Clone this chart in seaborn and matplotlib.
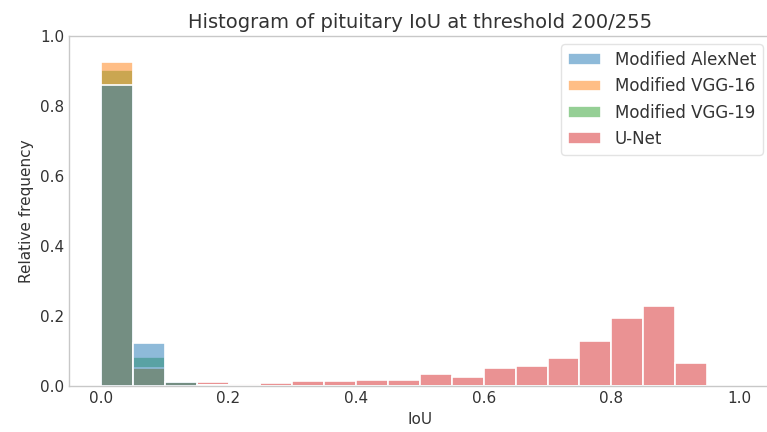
import numpy as np
import pandas as pd
import matplotlib
matplotlib.use("Agg")
import matplotlib.pyplot as plt
import seaborn as sns

# Bin edges (width 0.05 from 0 to 1)
bin_edges = [round(i * 0.05, 2) for i in range(21)]
series_names = ["Modified AlexNet", "Modified VGG-16", "Modified VGG-19", "U-Net"]

alexnet = [0.860, 0.122, 0.012, 0.003, 0.002, 0, 0, 0, 0, 0,
           0, 0, 0, 0, 0, 0, 0, 0, 0, 0]
vgg16 = [0.925, 0.053, 0.012, 0.004, 0.004, 0, 0, 0, 0, 0,
         0, 0, 0, 0, 0, 0, 0, 0, 0, 0]
vgg19 = [0.903, 0.082, 0.012, 0.003, 0.002, 0, 0, 0, 0, 0,
         0, 0, 0, 0, 0, 0, 0, 0, 0, 0]
unet = [0.0, 0.0, 0.004, 0.012, 0.007, 0.010, 0.015, 0.015, 0.018, 0.018,
        0.034, 0.026, 0.053, 0.059, 0.080, 0.129, 0.194, 0.230, 0.065, 0.0]

colors = ["#1f77b4", "#ff7f0e", "#2ca02c", "#d62728"]

sns.set_style("white")
plt.rcParams["font.family"] = ["DejaVu Sans"]

centers = [(bin_edges[i] + bin_edges[i + 1]) / 2 for i in range(20)]
frames = []
for name, vals in zip(series_names, [alexnet, vgg16, vgg19, unet]):
    frames.append(pd.DataFrame({"IoU": centers, "w": vals, "model": name}))
df = pd.concat(frames, ignore_index=True)

fig = plt.figure(figsize=(7.67, 4.32), dpi=100)
ax = fig.add_axes([0.090, 0.106, 0.915, 0.811])

# draw last series first so the first one sits on top
for name, col in reversed(list(zip(series_names, colors))):
    sub = df[df["model"] == name]
    sns.histplot(data=sub, x="IoU", weights="w", bins=bin_edges, stat="count",
                 color=col, alpha=0.5, edgecolor="white", linewidth=1.2,
                 label=name, ax=ax)

ax.set_xlim(-0.05, 1.05)
ax.set_ylim(0, 1.0)
ax.set_xticks([0.0, 0.2, 0.4, 0.6, 0.8, 1.0])
ax.set_yticks([0.0, 0.2, 0.4, 0.6, 0.8, 1.0])
ax.tick_params(labelsize=11, colors="#333333", length=0)
for s in ax.spines.values():
    s.set_color("#c8c8c8")
    s.set_linewidth(1.0)
ax.set_xlabel("IoU", fontsize=11, color="#333333")
ax.set_ylabel("Relative frequency", fontsize=11, color="#333333")
ax.set_title("Histogram of pituitary IoU at threshold 200/255", fontsize=14, color="#333333")
handles, labels = ax.get_legend_handles_labels()
order = [labels.index(n) for n in series_names]
leg = ax.legend([handles[i] for i in order], [labels[i] for i in order],
                loc="upper right", fontsize=12, frameon=True)
leg.get_frame().set_edgecolor("#dddddd")
for t in leg.get_texts():
    t.set_color("#333333")

fig.savefig("out.png", dpi=100)
